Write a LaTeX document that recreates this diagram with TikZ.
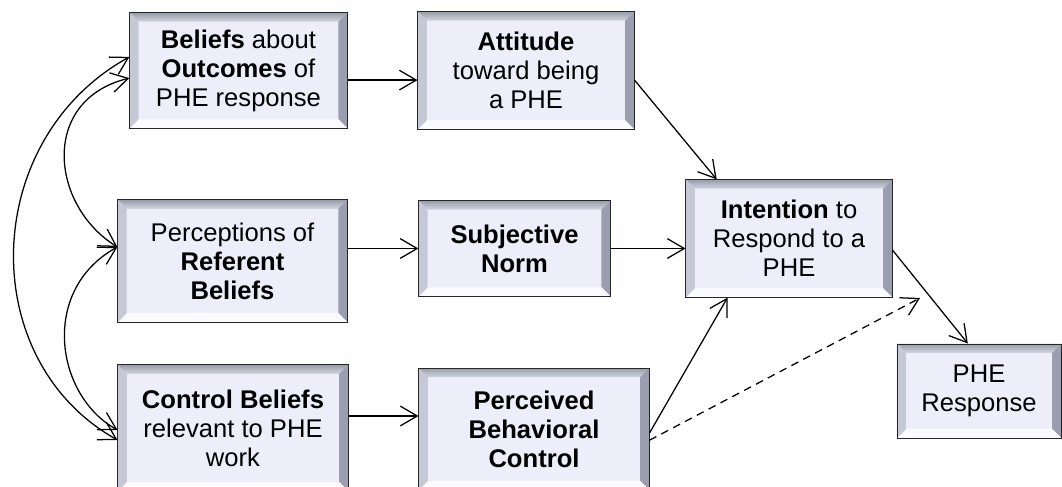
\documentclass[tikz,border=0pt]{standalone}
\usepackage{fontspec}
\setmainfont{Liberation Sans}
\usetikzlibrary{arrows.meta}
\definecolor{boxfill}{HTML}{EEEEFA}
\definecolor{bevtop}{HTML}{B4BACA}
\definecolor{bevleft}{HTML}{C6C8D6}
\definecolor{bevright}{HTML}{9A9EAE}
\definecolor{bevbottom}{HTML}{FBFBFF}
\newcommand\bevw{0.22cm}
\tikzset{
  phebox/.style={draw=black!85, fill=boxfill, line width=0.7pt, align=center,
    inner sep=0pt, font=\fontsize{18.2}{20.6}\selectfont,
    path picture={
      \coordinate (bnw) at (path picture bounding box.north west);
      \coordinate (bne) at (path picture bounding box.north east);
      \coordinate (bse) at (path picture bounding box.south east);
      \coordinate (bsw) at (path picture bounding box.south west);
      \coordinate (inw) at ([shift={(\bevw,-\bevw)}]bnw);
      \coordinate (ine) at ([shift={(-\bevw,-\bevw)}]bne);
      \coordinate (ise) at ([shift={(-\bevw,\bevw)}]bse);
      \coordinate (isw) at ([shift={(\bevw,\bevw)}]bsw);
      \shade[top color=bevtop!85!black, bottom color=bevtop!60!white] (bnw) -- (bne) -- (ine) -- (inw) -- cycle;
      \fill[bevright] (bne) -- (bse) -- (ise) -- (ine) -- cycle;
      \fill[bevbottom] (bse) -- (bsw) -- (isw) -- (ise) -- cycle;
      \fill[bevleft] (bsw) -- (bnw) -- (inw) -- (isw) -- cycle;
    }}
}
\begin{document}
\begin{tikzpicture}[x=0.025cm,y=-0.025cm,line width=0.9pt,
  >={Straight Barb[length=12pt,width=14pt]}]
\useasboundingbox (0,0) rectangle (1062,486);
% boxes
\node[phebox, minimum width=5.43cm, minimum height=2.88cm] (bel) at (238.5,70.5)
  {\textbf{Beliefs} about\\ \textbf{Outcomes} of\\ PHE response};
\node[phebox, minimum width=5.4cm, minimum height=2.93cm] (att) at (526,70.5)
  {\textbf{Attitude}\\ toward being\\ a PHE};
\node[phebox, minimum width=5.73cm, minimum height=3.05cm] (per) at (232.5,261)
  {Perceptions of\\ \textbf{Referent}\\ \textbf{Beliefs}};
\node[phebox, minimum width=4.78cm, minimum height=2.38cm] (sub) at (514.5,248.5)
  {\textbf{Subjective}\\ \textbf{Norm}};
\node[phebox, minimum width=5.75cm, minimum height=3.15cm] (con) at (233,428)
  {\textbf{Control Beliefs}\\ relevant to PHE\\ work};
\node[phebox, minimum width=5.75cm, minimum height=3.03cm] (pbc) at (534,429)
  {\textbf{Perceived}\\ \textbf{Behavioral}\\ \textbf{Control}};
\node[phebox, minimum width=5.15cm, minimum height=2.93cm] (int) at (789,238.5)
  {\textbf{Intention} to\\ Respond to a\\ PHE};
\node[phebox, minimum width=4.1cm, minimum height=2.35cm] (res) at (979,391)
  {PHE\\ Response};
\coordinate (dashend) at (920,298);
% paths
\draw[->] ([yshift=-0.24cm]bel.east) -- ([yshift=-0.24cm]att.west);
\draw[->] (per.east |- sub.west) -- (sub.west);
\draw[->] ([yshift=0.3cm]con.east) -- ([yshift=0.3cm]con.east -| pbc.west);
\draw[->] ([yshift=-0.24cm]att.east) -- ([xshift=0.78cm]int.north west);
\draw[->] (sub.east) -- (sub.east -| int.west);
\draw[->] ([yshift=-0.1cm]pbc.east) -- ([xshift=1.05cm]int.south west);
\draw[->, dashed, dash pattern=on 5.5pt off 4pt] ([yshift=-0.28cm]pbc.east) -- (dashend);
\draw[->] ([yshift=-0.29cm]int.east) -- ([xshift=-0.28cm]res.north);
% correlations
\draw[<->] ([yshift=-0.19cm]bel.west) .. controls (40,100) and (50,205) .. ([yshift=0.35cm]per.west);
\draw[<->] ([yshift=0.35cm]per.west) .. controls (40,290) and (55,395) .. ([yshift=-0.05cm]con.west);
\draw[<->] ([yshift=0.34cm]bel.west) .. controls (-20,140) and (-25,360) .. ([yshift=-0.3cm]con.west);
\end{tikzpicture}
\end{document}
